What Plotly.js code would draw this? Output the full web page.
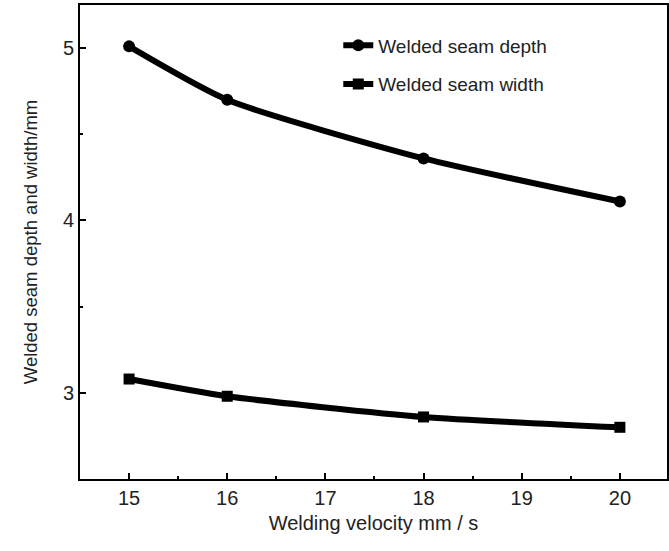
<!DOCTYPE html>
<html><head><meta charset="utf-8">
<script src="https://cdn.plot.ly/plotly-3.0.1.min.js"></script>
<style>body{margin:0;background:#fff}</style>
</head><body>
<div id="chart" style="width:669px;height:551px"></div>
<script>
const velocity = [15, 16, 18, 20];
const seamDepth = [5.01, 4.70, 4.36, 4.11];
const seamWidth = [3.08, 2.98, 2.86, 2.80];
const xTicks = [15, 16, 17, 18, 19, 20];
const yTicks = [3, 4, 5];

const FONT = 'Liberation Sans, Arial, sans-serif';

const traces = [
  {x: velocity, y: seamDepth, name: 'Welded seam depth', mode: 'lines+markers', legendgroup: 'a',
   line: {color: '#000', width: 6, shape: 'spline', smoothing: 0.6},
   marker: {symbol: 'circle', size: 12, color: '#000'}},
  {x: velocity, y: seamWidth, name: 'Welded seam width', mode: 'lines+markers', legendgroup: 'b',
   line: {color: '#000', width: 6, shape: 'spline', smoothing: 0.6},
   marker: {symbol: 'square', size: 11, color: '#000'}}
];

const axisCommon = {
  showgrid: false, zeroline: false, showline: true, linecolor: '#000', linewidth: 2,
  mirror: true, ticks: 'inside', ticklen: 6, tickwidth: 2, tickcolor: '#000',
  tickfont: {family: FONT, size: 20, color: '#222'},
  minor: {ticks: 'inside', ticklen: 3, tickwidth: 2, tickcolor: '#000', showgrid: false}
};

const layout = {
  width: 669, height: 551,
  margin: {l: 80, r: 2, t: 5, b: 72},
  paper_bgcolor: '#fff', plot_bgcolor: '#fff',
  showlegend: true,
  legend: {x: 0.44, y: 0.955, xanchor: 'left', yanchor: 'top', bgcolor: 'rgba(0,0,0,0)',
    font: {family: FONT, size: 19, color: '#222'},
    traceorder: 'grouped', tracegroupgap: 11},
  xaxis: Object.assign({}, axisCommon, {
    range: [14.5, 20.48], tickvals: xTicks, ticktext: xTicks.map(String),
    minor: Object.assign({}, axisCommon.minor, {dtick: 0.5, tick0: 14.5}),
    title: {text: 'Welding velocity mm / s', standoff: 8,
      font: {family: FONT, size: 20, color: '#222'}}
  }),
  yaxis: Object.assign({}, axisCommon, {
    range: [2.5, 5.25], tickvals: yTicks, ticktext: yTicks.map(String),
    minor: Object.assign({}, axisCommon.minor, {dtick: 0.5, tick0: 2.5}),
    title: {text: 'Welded seam depth and width/mm', standoff: 20,
      font: {family: FONT, size: 18.5, color: '#222'}}
  })
};

Plotly.newPlot('chart', traces, layout, {displayModeBar: false});
</script>
</body></html>
